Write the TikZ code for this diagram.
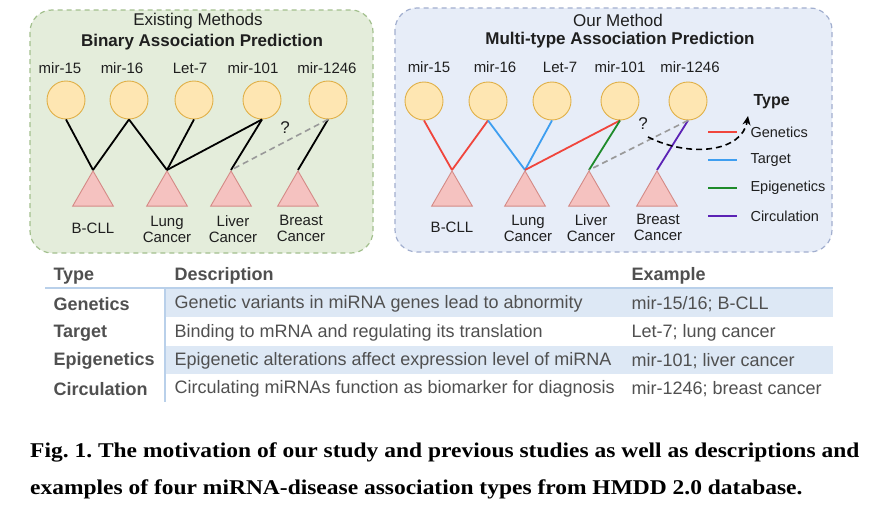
\documentclass[tikz,border=0pt]{standalone}
\usepackage{fontspec}
\setmainfont{Liberation Sans}
\newfontfamily\capfont{Liberation Serif}
\usetikzlibrary{shapes.geometric,arrows.meta}
\definecolor{boxgreen}{HTML}{E4EDDB}
\definecolor{linegreen}{HTML}{A3C08E}
\definecolor{boxblue}{HTML}{E7EDF8}
\definecolor{lineblue}{HTML}{A2AFCF}
\definecolor{mirfill}{HTML}{FEE6B2}
\definecolor{mirline}{HTML}{E0B048}
\definecolor{disfill}{HTML}{F5C2C0}
\definecolor{disline}{HTML}{D48A86}
\definecolor{cgen}{HTML}{F0453C}
\definecolor{ctar}{HTML}{3E9EF0}
\definecolor{cepi}{HTML}{1E8A2A}
\definecolor{ccir}{HTML}{5B22B5}
\definecolor{rowblue}{HTML}{DDE8F5}
\definecolor{ruleblue}{HTML}{B9D0EA}
\definecolor{txtgray}{HTML}{505050}
\tikzset{
  panel/.style={rounded corners=22pt,dashed,line width=1.2pt,dash pattern=on 5pt off 4pt},
  mirna/.style={circle,draw=mirline,fill=mirfill,line width=0.9pt,minimum size=38pt,inner sep=0pt},
  disease/.style={regular polygon,regular polygon sides=3,draw=disline,fill=disfill,line width=0.9pt,minimum size=47pt,inner sep=0pt,anchor=corner 1},
  lab/.style={font=\fontsize{15}{16}\selectfont,align=center,text=black!88},
  ttl/.style={font=\fontsize{17}{18}\selectfont,text=black!88},
  link/.style={line width=1.8pt},
  unk/.style={line width=1.6pt,dashed,dash pattern=on 6pt off 4pt,black!40},
  legtxt/.style={font=\fontsize{14.5}{16}\selectfont,anchor=west,text=black!88},
  tab/.style={font=\fontsize{18}{20}\selectfont,anchor=west,text=txtgray},
  tabb/.style={font=\fontsize{18}{20}\selectfont\bfseries,anchor=west,text=txtgray}
}
\frenchspacing
\begin{document}
\begin{tikzpicture}[x=1pt,y=-1pt]
\useasboundingbox[fill=white] (0,0) rectangle (878,506);
\draw[panel,draw=linegreen,fill=boxgreen] (30,10) rectangle (373,253);
\draw[panel,draw=lineblue,fill=boxblue] (395,8) rectangle (832,252);
\node[ttl] (ttlA) at (198,21) {Existing Methods};
\node[ttl,font=\fontsize{17}{18}\selectfont\bfseries] (ttlB) at (202,42) {Binary Association Prediction};
\node[ttl] (ttlC) at (618,20) {Our Method};
\node[ttl,font=\fontsize{17}{18}\selectfont\bfseries] (ttlD) at (620,40) {Multi-type Association Prediction};
% existing methods
\node[lab] at (60,68) {mir-15};
\node[lab] at (122,68) {mir-16};
\node[lab] at (190,68) {Let-7};
\node[lab] at (253,68) {mir-101};
\node[lab] at (327,68) {mir-1246};
\node[mirna] (a1) at (66,100) {};
\node[mirna] (a2) at (129,100) {};
\node[mirna] (a3) at (194,100) {};
\node[mirna] (a4) at (262,100) {};
\node[mirna] (a5) at (328,100) {};
\node[disease] (b1) at (93,170) {};
\node[disease] (b2) at (167,170) {};
\node[disease] (b3) at (231,170) {};
\node[disease] (b4) at (298,170) {};
\node[lab] at (93,228) {B-CLL};
\node[lab] at (167,229) {Lung\\Cancer};
\node[lab] at (233,229) {Liver\\Cancer};
\node[lab] at (301,228) {Breast\\Cancer};
\draw[link] (a1.south) -- (b1.corner 1);
\draw[link] (a2.south) -- (b1.corner 1);
\draw[link] (a2.south) -- (b2.corner 1);
\draw[link] (a3.south) -- (b2.corner 1);
\draw[link] (a4.south) -- (b2.corner 1);
\draw[link] (a4.south) -- (b3.corner 1);
\draw[link] (a5.south) -- (b4.corner 1);
\draw[unk] (a5.south) -- (b3.corner 1);
\node[lab,font=\fontsize{17}{18}\selectfont] (q1) at (285,128) {?};
% our method
\node[lab] at (429,67) {mir-15};
\node[lab] at (495,67) {mir-16};
\node[lab] at (560,67) {Let-7};
\node[lab] at (620,67) {mir-101};
\node[lab] at (690,67) {mir-1246};
\node[mirna] (c1) at (424,101) {};
\node[mirna] (c2) at (488,101) {};
\node[mirna] (c3) at (552,101) {};
\node[mirna] (c4) at (620,101) {};
\node[mirna] (c5) at (688,101) {};
\node[disease] (d1) at (452,170) {};
\node[disease] (d2) at (525,170) {};
\node[disease] (d3) at (589,170) {};
\node[disease] (d4) at (657,170) {};
\node[lab] at (452,227) {B-CLL};
\node[lab] at (528,228) {Lung\\Cancer};
\node[lab] at (591,228) {Liver\\Cancer};
\node[lab] at (658,227) {Breast\\Cancer};
\draw[link,cgen] (c1.south) -- (d1.corner 1);
\draw[link,cgen] (c2.south) -- (d1.corner 1);
\draw[link,ctar] (c2.south) -- (d2.corner 1);
\draw[link,ctar] (c3.south) -- (d2.corner 1);
\draw[link,cgen] (c4.south) -- (d2.corner 1);
\draw[link,cepi] (c4.south) -- (d3.corner 1);
\draw[link,ccir] (c5.south) -- (d4.corner 1);
\draw[unk] (c5.south) -- (d3.corner 1);
\node[lab,font=\fontsize{17}{18}\selectfont] (q2) at (643,124) {?};
% legend
\node[legtxt,font=\fontsize{16}{18}\selectfont\bfseries] (lgT) at (750,102) {Type};
\node[legtxt] (lg1) at (747,132) {Genetics};
\node[legtxt] (lg2) at (747,160) {Target};
\node[legtxt] (lg3) at (747,188) {Epigenetics};
\node[legtxt] (lg4) at (747,216) {Circulation};
\draw[link,cgen] ([xshift=-39pt]lg1.west) -- ++(29,0);
\draw[link,ctar] ([xshift=-39pt]lg2.west) -- ++(29,0);
\draw[link,cepi] ([xshift=-39pt]lg3.west) -- ++(29,0);
\draw[link,ccir] ([xshift=-39pt]lg4.west) -- ++(29,0);
\coordinate (qs) at (648,137);
\coordinate (qe) at (748,116);
\draw[line width=1.6pt,dashed,dash pattern=on 6pt off 4pt,-{Stealth[length=9pt,width=8pt]}] (qs) .. controls (690,158) and (742,152) .. (qe);
% table
\fill[rowblue] (165,289) rectangle (833,317);
\fill[rowblue] (165,346) rectangle (833,374);
\draw[ruleblue,line width=1.5pt] (45,288) -- (833,288);
\draw[ruleblue,line width=1.2pt] (165,288) -- (165,402);
\node[tabb] (h1) at (50,276) {Type};
\node[tabb] (h2) at (171,276) {Description};
\node[tabb] (h3) at (628,276) {Example};
\node[tabb] (t1) at (50,304) {Genetics};
\node[tabb] (t2) at (50,333) {Target};
\node[tabb] (t3) at (50,361) {Epigenetics};
\node[tabb] (t4) at (50,389) {Circulation};
\node[tab] (s1) at (171,304) {Genetic variants in miRNA genes lead to abnormity};
\node[tab] (s2) at (171,333) {Binding to mRNA and regulating its translation};
\node[tab] (s3) at (171,361) {Epigenetic alterations affect expression level of miRNA};
\node[tab] (s4) at (171,389) {Circulating miRNAs function as biomarker for diagnosis};
\node[tab] (e1) at (628,304) {mir-15/16; B-CLL};
\node[tab] (e2) at (628,333) {Let-7; lung cancer};
\node[tab] (e3) at (628,361) {mir-101; liver cancer};
\node[tab] (e4) at (628,389) {mir-1246; breast cancer};
% caption
\node[anchor=base west,inner sep=0pt] (cap1) at (30,457) {\scalebox{1.118}[1]{\capfont\bfseries\fontsize{21}{24}\selectfont Fig. 1. The motivation of our study and previous studies as well as descriptions and}};
\node[anchor=base west,inner sep=0pt] (cap2) at (30,494) {\scalebox{1.118}[1]{\capfont\bfseries\fontsize{21}{24}\selectfont examples of four miRNA-disease association types from HMDD 2.0 database.}};
\end{tikzpicture}
\end{document}
